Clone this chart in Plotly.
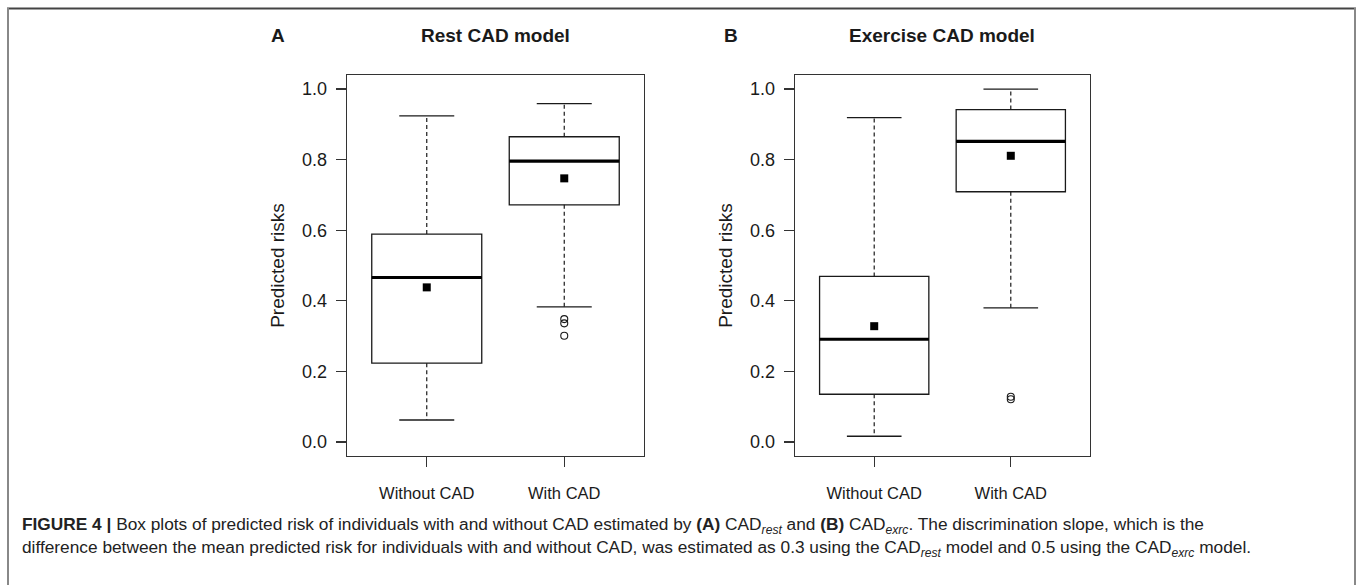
import plotly.graph_objects as go

# ---- data ----
categories = ["Without CAD", "With CAD"]
positions = [1, 2]

rest_q1 = [0.223, 0.672]
rest_median = [0.466, 0.796]
rest_q3 = [0.589, 0.865]
rest_whisk_lo = [0.062, 0.383]
rest_whisk_hi = [0.924, 0.959]
rest_mean = [0.438, 0.747]
rest_out_x = [2, 2, 2]
rest_out_y = [0.348, 0.336, 0.301]

exrc_q1 = [0.135, 0.709]
exrc_median = [0.291, 0.852]
exrc_q3 = [0.469, 0.942]
exrc_whisk_lo = [0.016, 0.380]
exrc_whisk_hi = [0.919, 1.000]
exrc_mean = [0.328, 0.811]
exrc_out_x = [2, 2]
exrc_out_y = [0.128, 0.121]

y_ticks = [0.0, 0.2, 0.4, 0.6, 0.8, 1.0]
box_width = 0.8
cap_half = 0.2

INK = "#1a1a1a"
FONT = "Liberation Sans, Arial, sans-serif"

fig = go.Figure()


def add_panel(xref, yref, q1, med, q3, wlo, whi, mean, ox, oy):
    for i, p in enumerate(positions):
        # box body
        fig.add_trace(go.Box(
            x=[p], q1=[q1[i]], median=[med[i]], q3=[q3[i]],
            lowerfence=[q1[i]], upperfence=[q3[i]],
            width=box_width, fillcolor="white",
            line=dict(color=INK, width=1.3), boxpoints=False,
            xaxis=xref, yaxis=yref, showlegend=False, hoverinfo="skip"))
        # thick median
        fig.add_trace(go.Scatter(
            x=[p - box_width / 2, p + box_width / 2], y=[med[i], med[i]],
            mode="lines", line=dict(color="black", width=3.2),
            xaxis=xref, yaxis=yref, showlegend=False, hoverinfo="skip"))
        # dashed whiskers
        for a, b in ((q3[i], whi[i]), (q1[i], wlo[i])):
            fig.add_trace(go.Scatter(
                x=[p, p], y=[a, b], mode="lines",
                line=dict(color=INK, width=1.2, dash="4px,3px"),
                xaxis=xref, yaxis=yref, showlegend=False, hoverinfo="skip"))
        # caps
        for w in (whi[i], wlo[i]):
            fig.add_trace(go.Scatter(
                x=[p - cap_half, p + cap_half], y=[w, w], mode="lines",
                line=dict(color=INK, width=1.3),
                xaxis=xref, yaxis=yref, showlegend=False, hoverinfo="skip"))
    # means
    fig.add_trace(go.Scatter(
        x=positions, y=mean, mode="markers",
        marker=dict(symbol="square", size=8, color="black"),
        xaxis=xref, yaxis=yref, showlegend=False, hoverinfo="skip"))
    # outliers
    fig.add_trace(go.Scatter(
        x=ox, y=oy, mode="markers",
        marker=dict(symbol="circle-open", size=7, color=INK, line=dict(width=1.1)),
        xaxis=xref, yaxis=yref, showlegend=False, hoverinfo="skip"))


add_panel("x", "y", rest_q1, rest_median, rest_q3, rest_whisk_lo,
          rest_whisk_hi, rest_mean, rest_out_x, rest_out_y)
add_panel("x2", "y2", exrc_q1, exrc_median, exrc_q3, exrc_whisk_lo,
          exrc_whisk_hi, exrc_mean, exrc_out_x, exrc_out_y)

W, H = 1357, 585


def px_x(v):
    return v / W


def px_y(v):
    return 1 - v / H


xcommon = dict(range=[0.42, 2.58], tickvals=positions, ticktext=categories,
               showline=True, mirror=True, linecolor="#333", linewidth=1.3,
               ticks="outside", ticklen=10, tickcolor="#333", tickwidth=1.3,
               showgrid=False, zeroline=False, ticklabelstandoff=12,
               tickfont=dict(family=FONT, size=16.5, color=INK), fixedrange=True)
ycommon = dict(range=[-0.04, 1.04], tickvals=y_ticks,
               ticktext=[f"{v:.1f}" for v in y_ticks],
               showline=True, mirror=True, linecolor="#333", linewidth=1.3,
               ticks="outside", ticklen=10, tickcolor="#333", tickwidth=1.3,
               showgrid=False, zeroline=False, ticklabelstandoff=5,
               tickfont=dict(family=FONT, size=18, color=INK),
               title=dict(text="Predicted risks", standoff=12,
                          font=dict(family=FONT, size=19, color=INK)),
               fixedrange=True)

fig.update_layout(
    width=W, height=H, margin=dict(l=0, r=0, t=0, b=0),
    paper_bgcolor="white", plot_bgcolor="white",
    xaxis=dict(domain=[px_x(347), px_x(644)], anchor="y", **xcommon),
    yaxis=dict(domain=[px_y(456), px_y(75)], anchor="x", **ycommon),
    xaxis2=dict(domain=[px_x(795), px_x(1090)], anchor="y2", **xcommon),
    yaxis2=dict(domain=[px_y(456), px_y(75)], anchor="x2", **ycommon),
)

ann = []
for x, txt in ((278, "A"), (495, "Rest CAD model"), (731, "B"), (942, "Exercise CAD model")):
    ann.append(dict(x=px_x(x), y=px_y(35), xref="paper", yref="paper",
                    text=f"<b>{txt}</b>", showarrow=False, xanchor="center",
                    yanchor="middle", font=dict(family=FONT, size=19, color=INK)))

cap1 = ("<b>FIGURE 4 |</b> Box plots of predicted risk of individuals with and without CAD "
        "estimated by <b>(A)</b> CAD<sub><i>rest</i></sub> and <b>(B)</b> CAD<sub><i>exrc</i></sub>. "
        "The discrimination slope, which is the")
cap2 = ("difference between the mean predicted risk for individuals with and without CAD, "
        "was estimated as 0.3 using the CAD<sub><i>rest</i></sub> model and 0.5 using the "
        "CAD<sub><i>exrc</i></sub> model.")
for yy, txt in ((525, cap1), (548, cap2)):
    ann.append(dict(x=px_x(20), y=px_y(yy), xref="paper", yref="paper", text=txt,
                    showarrow=False, xanchor="left", yanchor="middle",
                    font=dict(family=FONT, size=17.3, color="#222")))
fig.update_layout(annotations=ann)

# figure frame
fig.add_shape(type="line", xref="paper", yref="paper", x0=px_x(7), x1=px_x(1356),
              y0=px_y(8.5), y1=px_y(8.5), line=dict(color="#444", width=2))
fig.add_shape(type="line", xref="paper", yref="paper", x0=px_x(8), x1=px_x(8),
              y0=px_y(8), y1=0, line=dict(color="#888", width=2))
fig.add_shape(type="line", xref="paper", yref="paper", x0=px_x(1355), x1=px_x(1355),
              y0=px_y(8), y1=0, line=dict(color="#888", width=2))

fig.write_html(
    "out.html",
    config={"displayModeBar": False, "staticPlot": True},
    post_script="document.body.style.margin='0';document.body.style.overflow='hidden';",
)
